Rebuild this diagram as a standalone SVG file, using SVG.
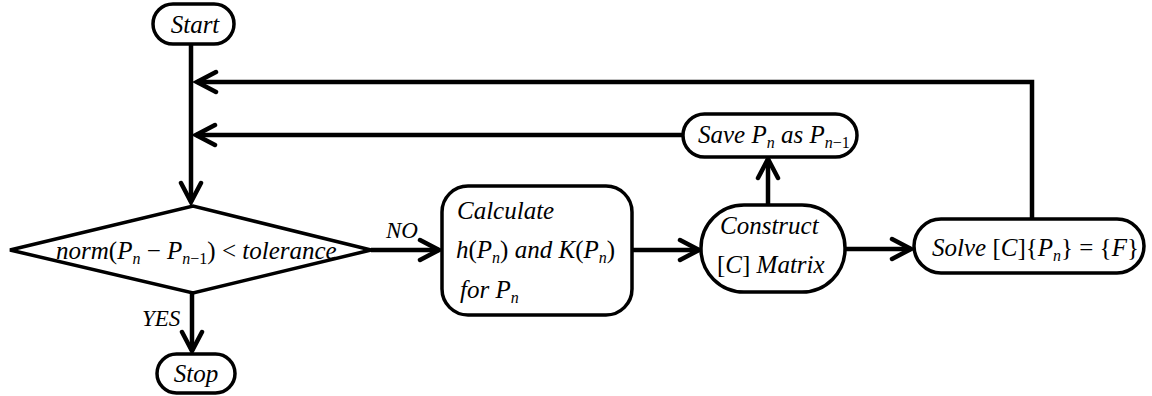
<svg xmlns="http://www.w3.org/2000/svg" width="1152" height="396" viewBox="0 0 1152 396">
<style>
.n{fill:#fff;stroke:#000;stroke-width:3.5}
.c{fill:none;stroke:#000;stroke-width:4.5}
</style>
<defs>
<marker id="ah" viewBox="-24 -14 28 28" refX="0" refY="0" markerWidth="28" markerHeight="28" markerUnits="userSpaceOnUse" orient="auto">
<path d="M-19,-10 L0,0 L-19,10" fill="none" stroke="#000" stroke-width="4.5" stroke-linecap="round"/>
</marker>
</defs>
<g id="connectors">
<path class="c" d="M191,44 V202" marker-end="url(#ah)"/>
<path class="c" d="M1032,218 V82 H197" marker-end="url(#ah)"/>
<path class="c" d="M683,135 H196" marker-end="url(#ah)"/>
<path class="c" d="M192,293 V351" marker-end="url(#ah)"/>
<path class="c" d="M371,250 H439" marker-end="url(#ah)"/>
<path class="c" d="M632,250 H699" marker-end="url(#ah)"/>
<path class="c" d="M768,205 V159" marker-end="url(#ah)"/>
<path class="c" d="M845,249 H911" marker-end="url(#ah)"/>
<text x="386" y="238" font-family="Liberation Serif" font-style="italic" font-size="23">NO</text>
<text x="142" y="326" font-family="Liberation Serif" font-style="italic" font-size="23">YES</text>
</g>
<g id="start">
<rect class="n" x="153" y="4" width="81" height="40" rx="20"/>
<text x="195" y="33" font-family="Liberation Serif" font-style="italic" font-size="25" text-anchor="middle">Start</text>
</g>
<g id="decision">
<polygon class="n" points="10,250 193,206 371,250 193,293"/>
<text x="56" y="259" font-family="Liberation Serif" font-style="italic" font-size="25">norm<tspan font-style="normal">(</tspan>P<tspan font-size="16" dy="5">n</tspan><tspan dy="-5"> </tspan><tspan font-style="normal">− </tspan>P<tspan font-size="16" dy="5">n<tspan font-style="normal">−1</tspan></tspan><tspan font-style="normal" dy="-5">) &lt; </tspan>tolerance</text>
</g>
<g id="stop">
<rect class="n" x="157" y="354" width="78" height="39" rx="19.5"/>
<text x="196" y="382" font-family="Liberation Serif" font-style="italic" font-size="25" text-anchor="middle">Stop</text>
</g>
<g id="calculate">
<rect class="n" x="442" y="186" width="190" height="129" rx="26"/>
<text x="457" y="219" font-family="Liberation Serif" font-style="italic" font-size="25">Calculate</text>
<text x="456" y="258" font-family="Liberation Serif" font-style="italic" font-size="25">h<tspan font-style="normal">(</tspan>P<tspan font-size="16" dy="5">n</tspan><tspan font-style="normal" dy="-5">)</tspan> and K<tspan font-style="normal">(</tspan>P<tspan font-size="16" dy="5">n</tspan><tspan font-style="normal" dy="-5">)</tspan></text>
<text x="460" y="298" font-family="Liberation Serif" font-style="italic" font-size="25">for P<tspan font-size="16" dy="5">n</tspan></text>
</g>
<g id="construct">
<rect class="n" x="701" y="205" width="144" height="87" rx="43"/>
<text x="720" y="234" font-family="Liberation Serif" font-style="italic" font-size="25">Construct</text>
<text x="717" y="273" font-family="Liberation Serif" font-style="italic" font-size="25"><tspan font-style="normal">[</tspan>C<tspan font-style="normal">]</tspan> Matrix</text>
</g>
<g id="save">
<rect class="n" x="683" y="114" width="174" height="43" rx="21.5"/>
<text x="698" y="143" font-family="Liberation Serif" font-style="italic" font-size="25">Save P<tspan font-size="16" dy="5">n</tspan><tspan dy="-5"> as P</tspan><tspan font-size="16" dy="5">n<tspan font-style="normal">−1</tspan></tspan></text>
</g>
<g id="solve">
<rect class="n" x="914" y="219" width="230" height="54" rx="27"/>
<text x="932" y="256" font-family="Liberation Serif" font-style="italic" font-size="25">Solve <tspan font-style="normal">[</tspan>C<tspan font-style="normal">]{</tspan>P<tspan font-size="16" dy="5">n</tspan><tspan font-style="normal" dy="-5">} = {</tspan>F<tspan font-style="normal">}</tspan></text>
</g>
</svg>
